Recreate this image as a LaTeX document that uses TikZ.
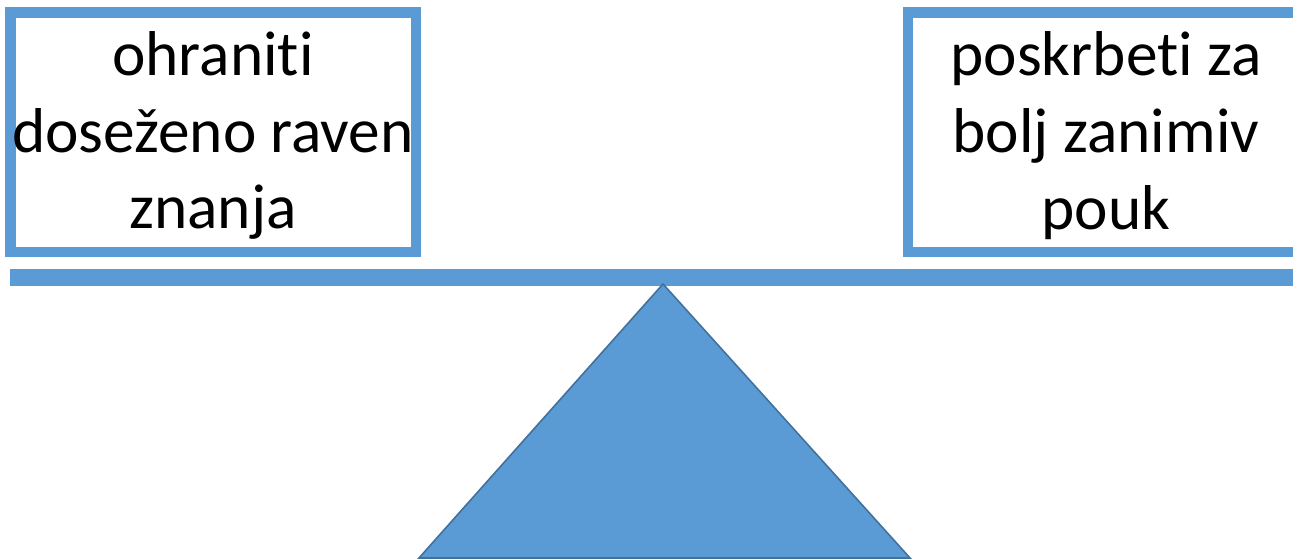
\documentclass[tikz,border=0pt]{standalone}
\usepackage{fontspec}
\setmainfont{Carlito}[RawFeature=-liga]
\definecolor{panblue}{HTML}{5B9BD5}
\definecolor{edgeblue}{HTML}{41719C}

\begin{document}
\begin{tikzpicture}[x=0.75pt,y=0.75pt,yscale=-1,xscale=1,
  pantext/.style={align=center,inner sep=0pt,font=\fontsize{47.5pt}{57.6pt}\selectfont}]
\useasboundingbox (0,0) rectangle (1293,560);
\clip (0,0) rectangle (1293,560);

% pans
\draw [color=panblue, line width=7.9pt] (10.5,12.5) rectangle (416,252) ;
\draw [color=panblue, line width=7.9pt] (908,12.5) rectangle (1302,252) ;

% beam and pivot
\fill [panblue] (10,269) rectangle (1300,286) ;
\draw [color=edgeblue, fill=panblue, line width=1.2pt, line join=miter] (419,558) -- (663,284) -- (910,558) -- cycle ;

\node [pantext] (keep) at (213,135.5) {ohraniti\\doseženo raven\\znanja};
\node [pantext] (fun) at (1106,135.5) {poskrbeti za\\bolj zanimiv\\pouk};

\end{tikzpicture}
\end{document}
